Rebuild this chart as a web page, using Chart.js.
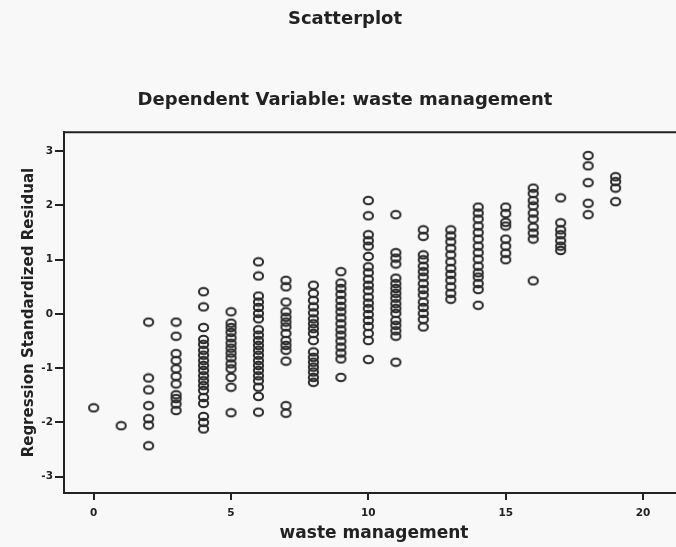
<!DOCTYPE html>
<html>
<head>
<meta charset="utf-8">
<script src="https://cdn.jsdelivr.net/npm/chart.js@4.4.1/dist/chart.umd.min.js"></script>
<style>
  html, body { margin: 0; padding: 0; background: #f8f8f8; overflow: hidden; }
  #wrap { width: 676px; height: 547px; overflow: hidden; }
</style>
</head>
<body>
<div id="wrap"><canvas id="myChart" width="690" height="547"></canvas></div>
<script>
// waste management score (x) and the standardized residuals seen at each score
const wasteScores = [0, 1, 2, 3, 4, 5, 6, 7, 8, 9, 10, 11, 12, 13, 14, 15, 16, 17, 18, 19];
const residualsByScore = [
  [-1.73],
  [-2.06],
  [-0.15, -1.18, -1.40, -1.69, -1.93, -2.05, -2.43],
  [-0.15, -0.41, -0.73, -0.86, -1.01, -1.15, -1.29, -1.49, -1.56, -1.66, -1.78],
  [0.41, 0.13, -0.25, -0.47, -0.56, -0.67, -0.76, -0.86, -0.95, -1.04, -1.14, -1.23, -1.32, -1.41, -1.54, -1.65, -1.89, -2.00, -2.12],
  [0.04, -0.17, -0.25, -0.34, -0.44, -0.54, -0.63, -0.72, -0.81, -0.92, -1.01, -1.17, -1.35, -1.82],
  [0.96, 0.70, 0.33, 0.22, 0.12, 0.01, -0.09, -0.29, -0.39, -0.49, -0.58, -0.67, -0.76, -0.86, -0.95, -1.04, -1.14, -1.23, -1.35, -1.52, -1.81],
  [0.62, 0.50, 0.22, 0.04, -0.06, -0.15, -0.24, -0.36, -0.49, -0.58, -0.67, -0.87, -1.69, -1.83],
  [0.53, 0.38, 0.25, 0.13, 0.02, -0.09, -0.18, -0.27, -0.36, -0.49, -0.70, -0.80, -0.89, -0.98, -1.07, -1.17, -1.26],
  [0.78, 0.57, 0.47, 0.36, 0.25, 0.14, 0.04, -0.07, -0.18, -0.29, -0.39, -0.50, -0.61, -0.72, -0.83, -1.17],
  [2.09, 1.81, 1.46, 1.35, 1.25, 1.06, 0.87, 0.76, 0.64, 0.53, 0.43, 0.31, 0.20, 0.10, -0.01, -0.12, -0.23, -0.36, -0.49, -0.84],
  [1.83, 1.13, 1.03, 0.92, 0.66, 0.56, 0.47, 0.38, 0.29, 0.19, 0.10, 0.01, -0.12, -0.21, -0.31, -0.41, -0.89],
  [1.55, 1.43, 1.09, 1.00, 0.88, 0.78, 0.68, 0.56, 0.45, 0.35, 0.22, 0.12, 0.01, -0.10, -0.24],
  [1.55, 1.44, 1.33, 1.21, 1.09, 0.96, 0.84, 0.73, 0.62, 0.50, 0.38, 0.27],
  [1.97, 1.86, 1.75, 1.62, 1.50, 1.38, 1.25, 1.13, 1.01, 0.88, 0.76, 0.68, 0.56, 0.45, 0.16],
  [1.97, 1.85, 1.69, 1.62, 1.38, 1.25, 1.12, 1.00],
  [2.32, 2.22, 2.09, 1.99, 1.86, 1.75, 1.60, 1.49, 1.38, 0.61],
  [2.14, 1.68, 1.55, 1.46, 1.35, 1.25, 1.17],
  [2.92, 2.73, 2.42, 2.04, 1.83],
  [2.53, 2.44, 2.32, 2.07]
];
const xTicks = [0, 5, 10, 15, 20];
const yTicks = [-3, -2, -1, 0, 1, 2, 3];

const points = [];
wasteScores.forEach(function (s, i) {
  residualsByScore[i].forEach(function (r) { points.push({ x: s, y: r }); });
});

const ink = '#222';
const face = 'DejaVu Sans, Verdana, sans-serif';

// SPSS markers are slightly flattened open circles
const marker = document.createElement('canvas');
marker.width = 13;
marker.height = 11;
(function () {
  const m = marker.getContext('2d');
  m.strokeStyle = '#2a2a2a';
  m.lineWidth = 2;
  m.beginPath();
  m.ellipse(6.5, 5.5, 4.6, 3.8, 0, 0, Math.PI * 2);
  m.stroke();
})();

// top line of the plot frame (right side runs off the page)
const frame = {
  id: 'frame',
  afterDraw: function (chart) {
    const a = chart.chartArea, c = chart.ctx;
    c.save();
    c.strokeStyle = ink;
    c.lineWidth = 2;
    c.beginPath();
    c.moveTo(a.left, a.top);
    c.lineTo(a.right, a.top);
    c.lineTo(a.right, a.bottom);
    c.stroke();
    c.restore();
  }
};

var ctx = document.getElementById('myChart').getContext('2d');
var chart = new Chart(ctx, {
  type: 'scatter',
  data: {
    datasets: [{
      data: points,
      pointStyle: marker,
      pointRadius: 5,
      borderColor: '#2a2a2a',
      backgroundColor: 'rgba(0,0,0,0)'
    }]
  },
  options: {
    responsive: false,
    animation: false,
    layout: { padding: 0 },
    plugins: {
      legend: { display: false },
      tooltip: { enabled: false },
      title: {
        display: true,
        text: 'Scatterplot',
        color: ink,
        font: { family: face, size: 18, weight: 'bold' },
        padding: { top: 9, bottom: 59 }
      },
      subtitle: {
        display: true,
        text: 'Dependent Variable: waste management',
        color: ink,
        font: { family: face, size: 18, weight: 'bold' },
        padding: { top: 0, bottom: 21 }
      }
    },
    scales: {
      x: {
        type: 'linear',
        min: -1.08,
        max: 21.49,
        afterBuildTicks: function (s) { s.ticks = xTicks.map(function (v) { return { value: v }; }); },
        afterFit: function (s) { s.height = 54; },
        grid: { drawOnChartArea: false, tickLength: 7, color: ink, lineWidth: 2 },
        border: { color: ink, width: 2 },
        ticks: { color: ink, padding: 7, font: { family: face, size: 10.5, weight: 'bold' } },
        title: {
          display: true,
          text: 'waste management',
          color: ink,
          font: { family: face, size: 17, weight: 'bold' },
          padding: { top: 0, bottom: 3 }
        }
      },
      y: {
        type: 'linear',
        min: -3.3,
        max: 3.35,
        afterBuildTicks: function (s) { s.ticks = yTicks.map(function (v) { return { value: v }; }); },
        afterFit: function (s) { s.width = 64; },
        grid: { drawOnChartArea: false, tickLength: 9, color: ink, lineWidth: 2 },
        border: { color: ink, width: 2 },
        ticks: { color: ink, padding: 2, font: { family: face, size: 10.5, weight: 'bold' } },
        title: {
          display: true,
          text: 'Regression Standardized Residual',
          color: ink,
          font: { family: face, size: 15, weight: 'bold' },
          padding: { top: 20, bottom: 0 }
        }
      }
    }
  },
  plugins: [frame]
});
</script>
</body>
</html>
